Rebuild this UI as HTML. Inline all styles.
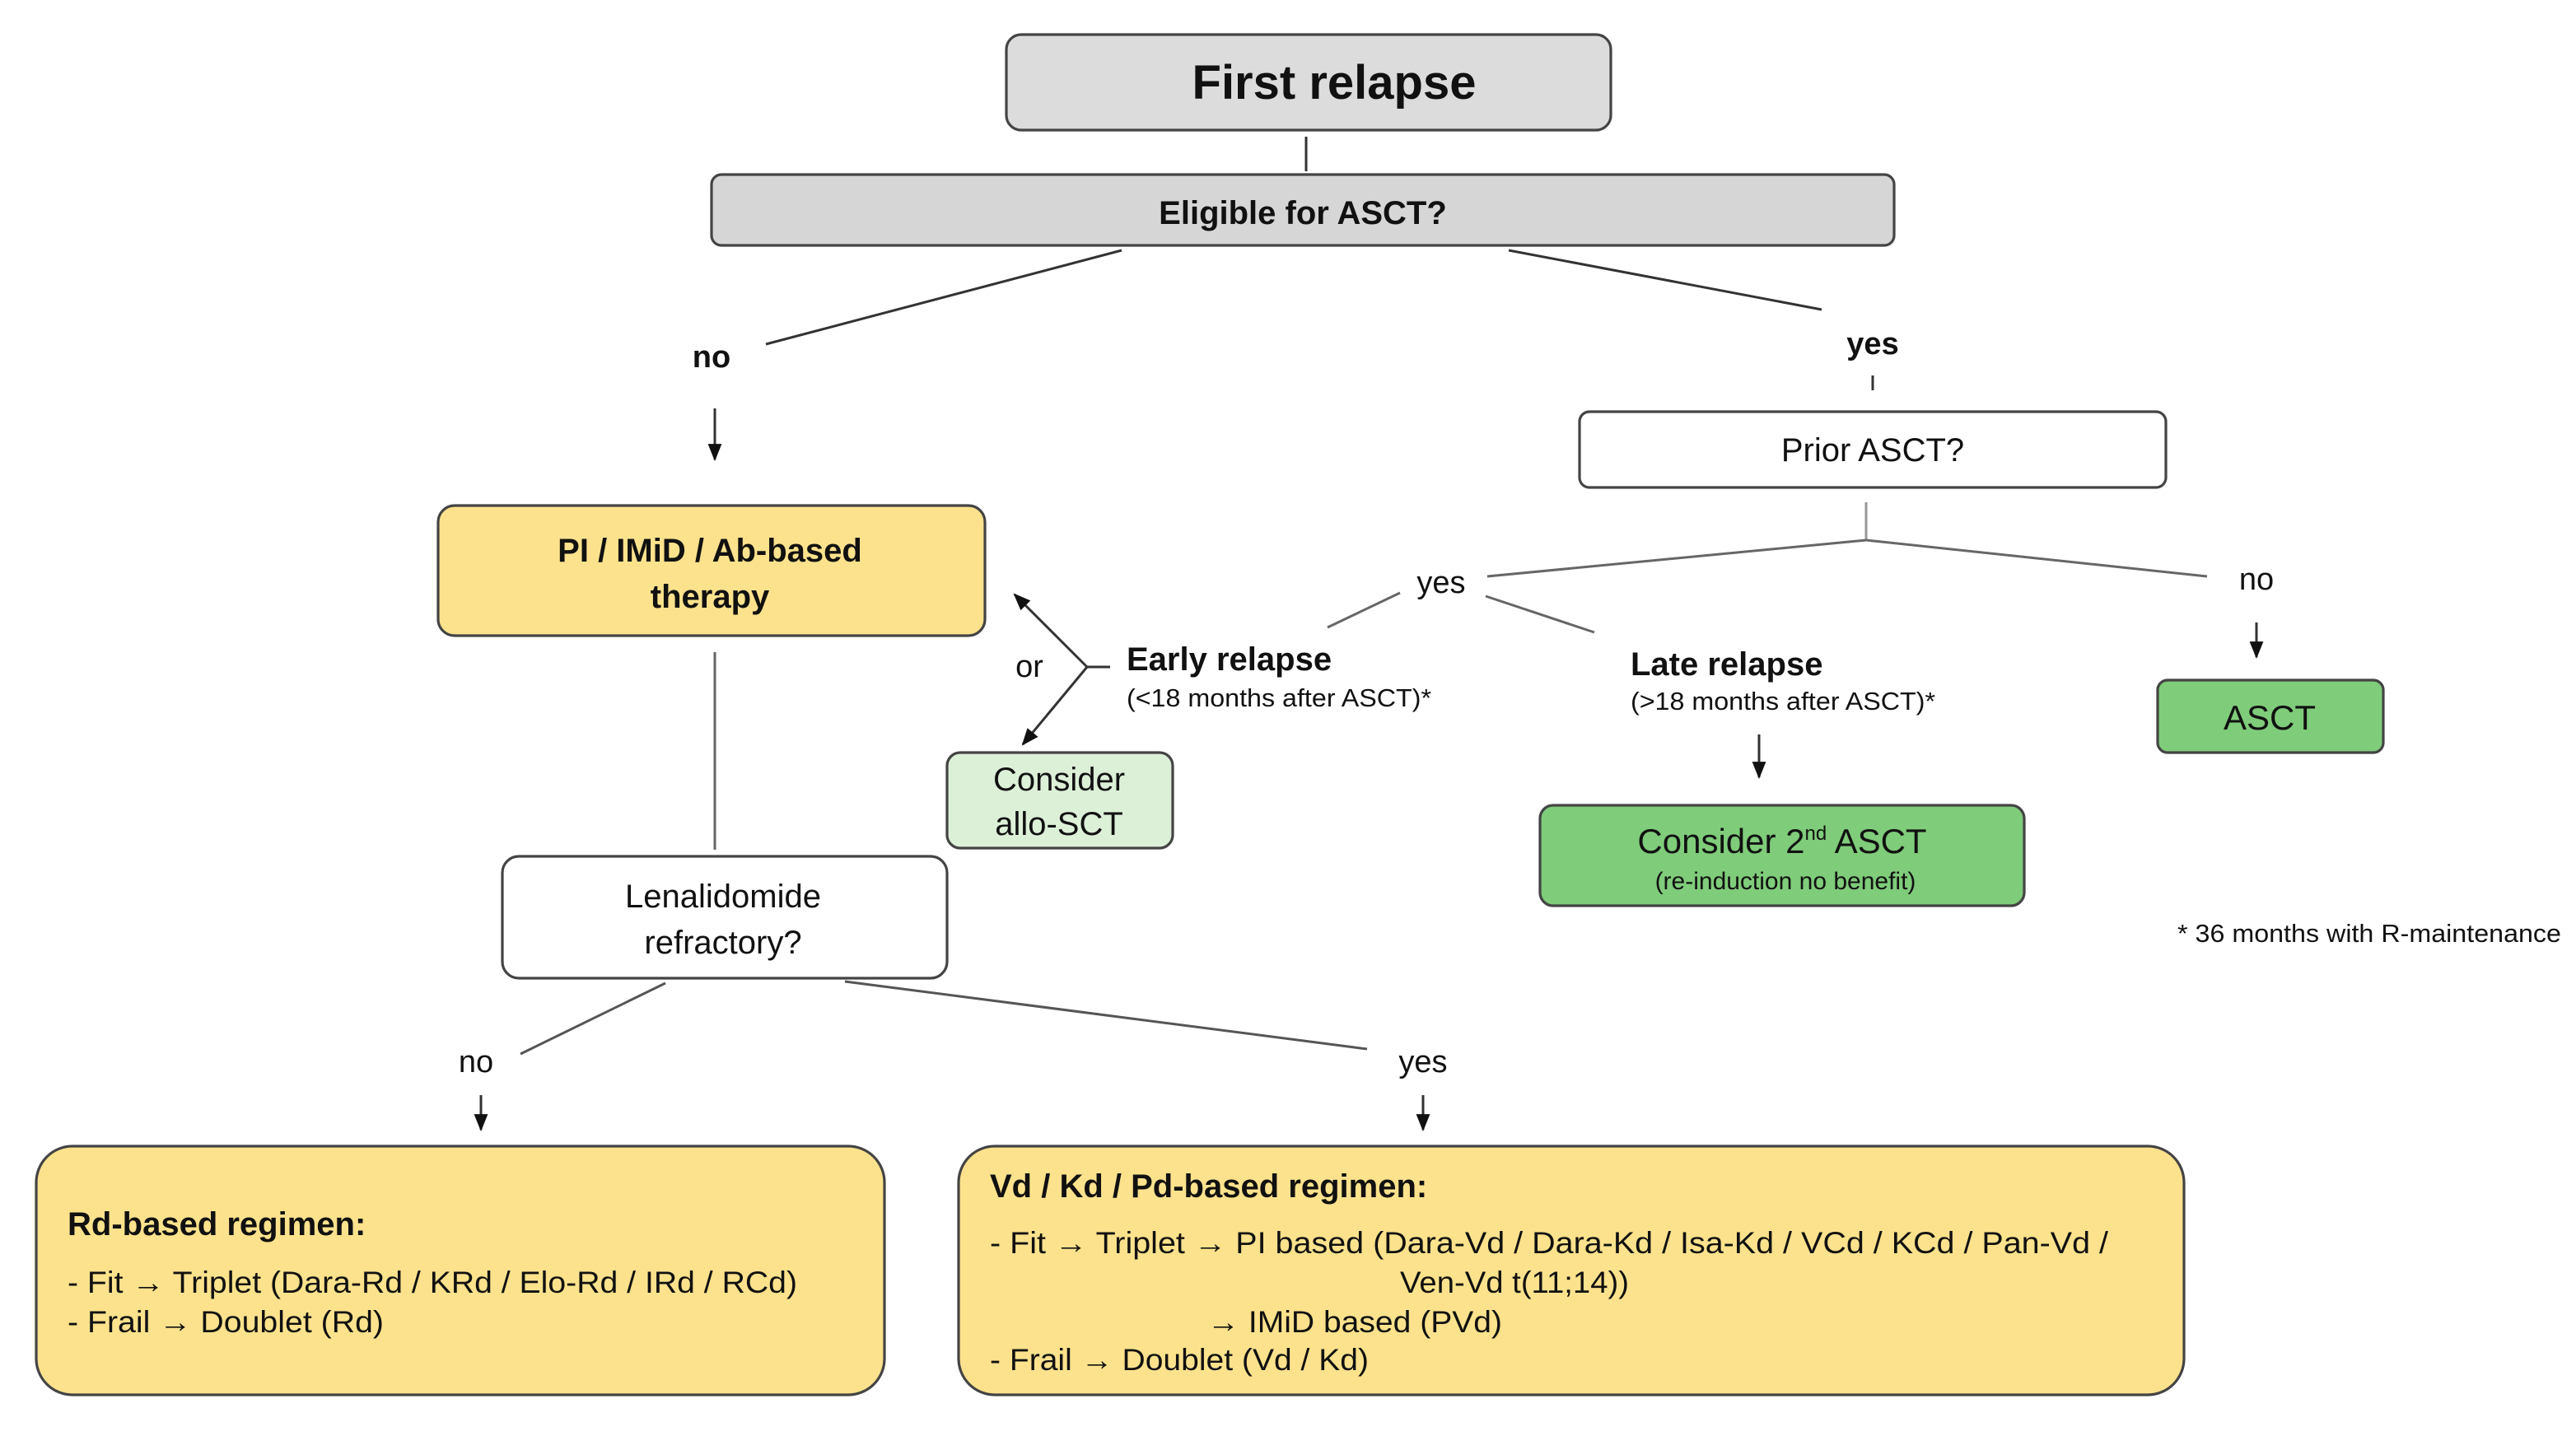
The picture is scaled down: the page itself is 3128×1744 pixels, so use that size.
<!DOCTYPE html>
<html><head><meta charset="utf-8"><style>
html,body{margin:0;padding:0;background:#fff}
svg{display:block}
text{font-family:"Liberation Sans",Arial,sans-serif;fill:#111}
</style></head><body>
<svg width="3128" height="1744" viewBox="0 0 1564 872" xmlns="http://www.w3.org/2000/svg">
<defs><marker id="a" viewBox="0 0 10 10" refX="9" refY="5" markerWidth="7" markerHeight="7" orient="auto"><path d="M0,1 L10,5 L0,9 z" fill="#111"/></marker></defs>
<g stroke="#444" stroke-width="1.6">
<rect x="611" y="21" width="367" height="58" rx="9" fill="#dcdcdc"/>
<rect x="432" y="106" width="718" height="43" rx="6" fill="#d6d6d6"/>
<rect x="959" y="250" width="356" height="46" rx="6" fill="#fff"/>
<rect x="266" y="307" width="332" height="79" rx="10" fill="#fde28d"/>
<rect x="575" y="457" width="137" height="58" rx="8" fill="#dcf0d8"/>
<rect x="935" y="489" width="294" height="61" rx="8" fill="#7fcc7a"/>
<rect x="1310" y="413" width="137" height="44" rx="6" fill="#7fcc7a"/>
<rect x="305" y="520" width="270" height="74" rx="10" fill="#fff"/>
<rect x="22" y="696" width="515" height="151" rx="22" fill="#fde28d"/>
<rect x="582" y="696" width="744" height="151" rx="22" fill="#fde28d"/>
</g>
<g stroke="#333" stroke-width="1.5" fill="none">
<line x1="793" y1="83" x2="793" y2="104"/>
<line x1="681" y1="152" x2="465" y2="209"/>
<line x1="916" y1="152" x2="1106" y2="188"/>
<line x1="1137" y1="228" x2="1137" y2="237"/>
<line x1="434" y1="248" x2="434" y2="279" marker-end="url(#a)"/>
<line x1="1133" y1="305" x2="1133" y2="328" stroke="#999"/>
<line x1="903" y1="350" x2="1133" y2="328" stroke="#666"/>
<line x1="1133" y1="328" x2="1340" y2="350" stroke="#666"/>
<line x1="1370" y1="378" x2="1370" y2="399" marker-end="url(#a)"/>
<line x1="806" y1="381" x2="850" y2="360" stroke="#666"/>
<line x1="902" y1="362" x2="968" y2="384" stroke="#666"/>
<line x1="1068" y1="446" x2="1068" y2="472" marker-end="url(#a)"/>
<line x1="660" y1="405" x2="674" y2="405"/>
<line x1="660" y1="405" x2="616" y2="361" marker-end="url(#a)"/>
<line x1="660" y1="405" x2="621" y2="452" marker-end="url(#a)"/>
<line x1="434" y1="396" x2="434" y2="516" stroke="#666"/>
<line x1="404" y1="597" x2="316" y2="640" stroke="#555"/>
<line x1="513" y1="596" x2="830" y2="637" stroke="#555"/>
<line x1="292" y1="665" x2="292" y2="686" marker-end="url(#a)"/>
<line x1="864" y1="665" x2="864" y2="686" marker-end="url(#a)"/>
</g>
<g text-anchor="middle">
<text x="810" y="60" font-size="29" font-weight="bold">First relapse</text>
<text x="791" y="136" font-size="20" font-weight="bold">Eligible for ASCT?</text>
<text x="432" y="223" font-size="19" font-weight="bold">no</text>
<text x="1137" y="215" font-size="19" font-weight="bold">yes</text>
<text x="1137" y="280" font-size="20">Prior ASCT?</text>
<text x="431" y="341" font-size="20" font-weight="bold">PI / IMiD / Ab-based</text>
<text x="431" y="369" font-size="20" font-weight="bold">therapy</text>
<text x="875" y="360" font-size="19">yes</text>
<text x="1370" y="358" font-size="19">no</text>
<text x="625" y="411" font-size="19">or</text>
<text x="643" y="480" font-size="20">Consider</text>
<text x="643" y="507" font-size="20">allo-SCT</text>
<text x="1082" y="518" font-size="21">Consider 2<tspan font-size="12" dy="-8">nd</tspan><tspan dy="8"> ASCT</tspan></text>
<text x="1084" y="540" font-size="15">(re-induction no benefit)</text>
<text x="1378" y="443" font-size="21">ASCT</text>
<text x="439" y="551" font-size="20">Lenalidomide</text>
<text x="439" y="579" font-size="20">refractory?</text>
<text x="289" y="651" font-size="19">no</text>
<text x="864" y="651" font-size="19">yes</text>
</g>
<text x="684" y="407" font-size="20" font-weight="bold">Early relapse</text>
<text x="684" y="429" font-size="15.5" textLength="185" lengthAdjust="spacingAndGlyphs">(&lt;18 months after ASCT)*</text>
<text x="990" y="410" font-size="20" font-weight="bold">Late relapse</text>
<text x="990" y="431" font-size="15.5" textLength="185" lengthAdjust="spacingAndGlyphs">(&gt;18 months after ASCT)*</text>
<text x="1322" y="572" font-size="15.5" textLength="233" lengthAdjust="spacingAndGlyphs">* 36 months with R-maintenance</text>
<text x="41" y="750" font-size="20" font-weight="bold">Rd-based regimen:</text>
<text x="41" y="785" font-size="18.5" textLength="443" lengthAdjust="spacingAndGlyphs">- Fit → Triplet (Dara-Rd / KRd / Elo-Rd / IRd / RCd)</text>
<text x="41" y="809" font-size="18.5" textLength="192" lengthAdjust="spacingAndGlyphs">- Frail → Doublet (Rd)</text>
<text x="601" y="727" font-size="20" font-weight="bold">Vd / Kd / Pd-based regimen:</text>
<text x="601" y="761" font-size="18.5" textLength="679" lengthAdjust="spacingAndGlyphs">- Fit → Triplet  → PI based (Dara-Vd / Dara-Kd / Isa-Kd / VCd / KCd / Pan-Vd /</text>
<text x="850" y="785" font-size="18.5" textLength="139" lengthAdjust="spacingAndGlyphs">Ven-Vd t(11;14))</text>
<text x="733" y="809" font-size="18.5" textLength="179" lengthAdjust="spacingAndGlyphs">→ IMiD based (PVd)</text>
<text x="601" y="832" font-size="18.5" textLength="230" lengthAdjust="spacingAndGlyphs">- Frail → Doublet (Vd / Kd)</text>
</svg>
</body></html>
